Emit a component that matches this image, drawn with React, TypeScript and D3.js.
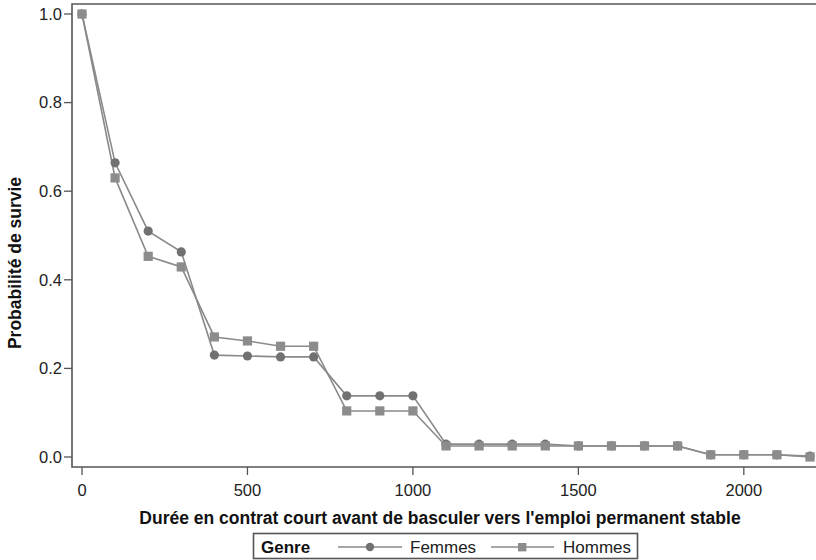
import React from "react";
import * as d3 from "d3";

const durations = [0, 100, 200, 300, 400, 500, 600, 700, 800, 900, 1000, 1100, 1200, 1300, 1400, 1500, 1600, 1700, 1800, 1900, 2000, 2100, 2200];
const femmes = [1.0, 0.664, 0.51, 0.463, 0.23, 0.228, 0.226, 0.226, 0.138, 0.138, 0.138, 0.029, 0.029, 0.029, 0.029, 0.025, 0.025, 0.025, 0.025, 0.005, 0.005, 0.005, 0.002];
const hommes = [1.0, 0.63, 0.453, 0.429, 0.271, 0.262, 0.25, 0.25, 0.104, 0.104, 0.104, 0.025, 0.025, 0.025, 0.025, 0.025, 0.025, 0.025, 0.025, 0.005, 0.005, 0.005, 0.0];
const xTicks = [0, 500, 1000, 1500, 2000];
const yTicks = [0, 0.2, 0.4, 0.6, 0.8, 1.0];
const xTitle = "Durée en contrat court avant de basculer vers l'emploi permanent stable";
const yTitle = "Probabilité de survie";
const legendTitle = "Genre";
const seriesNames = ["Femmes", "Hommes"];

const W = 816;
const H = 560;
const frame = { left: 72, top: 4, right: 830, bottom: 467 };
const font = "'Liberation Sans', Arial, sans-serif";

export default function App() {
  const x = d3.scaleLinear().domain([0, 2200]).range([82, 810]);
  const y = d3.scaleLinear().domain([0, 1]).range([457, 14]);
  const line = d3
    .line<number>()
    .x((_, i) => x(durations[i]))
    .y((d) => y(d));

  const lineColor = "#8a8a8a";
  const circleColor = "#717171";
  const squareColor = "#8c8c8c";
  const axisColor = "#555";

  return (
    <svg
      width={W}
      height={H}
      style={{ position: "absolute", left: 0, top: 0, background: "#fff" }}
      fontFamily={font}
    >
      <rect x={0} y={0} width={W} height={H} fill="#fff" />
      {/* frame */}
      <path
        d={`M${frame.right},${frame.top}H${frame.left}V${frame.bottom}H${frame.right}`}
        fill="none"
        stroke={axisColor}
        strokeWidth={1.6}
      />
      {/* y ticks */}
      {yTicks.map((t) => (
        <g key={"y" + t}>
          <line x1={frame.left - 8} x2={frame.left} y1={y(t)} y2={y(t)} stroke={axisColor} strokeWidth={1.3} />
          <text x={frame.left - 10} y={y(t)} dy="0.35em" textAnchor="end" fontSize={16.5} fill="#222">
            {t.toFixed(1)}
          </text>
        </g>
      ))}
      {/* x ticks */}
      {xTicks.map((t) => (
        <g key={"x" + t}>
          <line x1={x(t)} x2={x(t)} y1={frame.bottom} y2={frame.bottom + 8} stroke={axisColor} strokeWidth={1.3} />
          <text x={x(t)} y={490} dy="0.35em" textAnchor="middle" fontSize={16.5} fill="#222">
            {t}
          </text>
        </g>
      ))}
      {/* titles */}
      <text x={440} y={518} dy="0.35em" textAnchor="middle" fontSize={17.5} fontWeight="bold" fill="#111">
        {xTitle}
      </text>
      <text
        transform={`translate(15,263) rotate(-90)`}
        dy="0.35em"
        textAnchor="middle"
        fontSize={17.5}
        fontWeight="bold"
        fill="#111"
      >
        {yTitle}
      </text>
      {/* lines */}
      <path d={line(femmes) || ""} fill="none" stroke={lineColor} strokeWidth={1.6} />
      <path d={line(hommes) || ""} fill="none" stroke={lineColor} strokeWidth={1.6} />
      {/* markers */}
      {femmes.map((v, i) => (
        <circle key={"f" + i} cx={x(durations[i])} cy={y(v)} r={4.6} fill={circleColor} />
      ))}
      {hommes.map((v, i) => (
        <rect key={"h" + i} x={x(durations[i]) - 4.6} y={y(v) - 4.6} width={9.2} height={9.2} fill={squareColor} />
      ))}
      {/* legend */}
      <g>
        <rect x={253.5} y={533.5} width={384} height={25} fill="#fff" stroke={axisColor} strokeWidth={1.6} />
        <text x={261} y={547} dy="0.35em" fontSize={17} fontWeight="bold" fill="#111">
          {legendTitle}
        </text>
        <line x1={338} x2={402} y1={547} y2={547} stroke={lineColor} strokeWidth={1.6} />
        <circle cx={370} cy={547} r={4.2} fill={circleColor} />
        <text x={410} y={547} dy="0.35em" fontSize={17} fill="#222">
          {seriesNames[0]}
        </text>
        <line x1={491} x2={554} y1={547} y2={547} stroke={lineColor} strokeWidth={1.6} />
        <rect x={518} y={543} width={8.4} height={8.4} fill={squareColor} />
        <text x={563} y={547} dy="0.35em" fontSize={17} fill="#222">
          {seriesNames[1]}
        </text>
      </g>
    </svg>
  );
}
